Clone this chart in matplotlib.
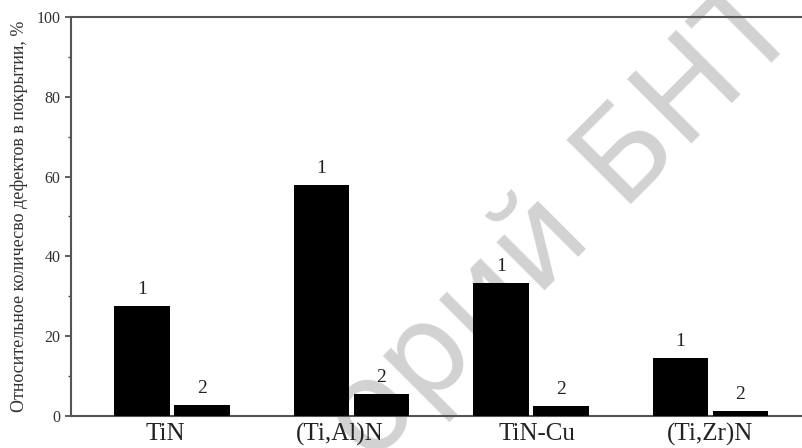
import matplotlib
matplotlib.use("Agg")
import matplotlib.pyplot as plt
import matplotlib.transforms as mtransforms
import numpy as np

categories = ["TiN", "(Ti,Al)N", "TiN-Cu", "(Ti,Zr)N"]
series1 = [27.6, 57.9, 33.3, 14.6]
series2 = [2.75, 5.6, 2.5, 1.3]
series_labels = ["1", "2"]
yticks = [0, 20, 40, 60, 80, 100]
ylabel = "Относительное количесво дефектов в покрытии, %"

plt.rcParams['font.family'] = ['Liberation Serif', 'DejaVu Serif']

fig = plt.figure(figsize=(8.02, 4.48), dpi=100)
ax = fig.add_axes([71/802, 1-416/448, (802-71)/802, (416-17)/448])
ax.set_zorder(2)

# watermark (behind the plot)
fig.text(0.735, 0.56, "орий БНТУ", rotation=45, fontsize=90, color='#d2d2d2',
         family='DejaVu Sans', ha='center', va='center', zorder=1)

x = np.arange(len(categories))
w = 0.31
off = 0.167
b1 = ax.bar(x - off, series1, w, color='black', zorder=3)
b2 = ax.bar(x + off, series2, w, color='black', zorder=3)
for bars, lab in zip([b1, b2], series_labels):
    for r in bars:
        ax.text(r.get_x() + r.get_width()/2, r.get_height() + 2.0, lab,
                ha='center', va='bottom', fontsize=14, color='#222222', zorder=4)

ax.set_xlim((71-172)/179.5, (802-172)/179.5)
ax.set_ylim(0, 100)
ax.set_yticks(yticks)
ax.set_yticks([10, 30, 50, 70, 90], minor=True)
ax.set_xticks(x)
ax.set_xticklabels([])
# category labels, slightly shifted horizontally as in the original figure (points)
label_shifts = [-4.5, -8.5, 4.5, 0]
for xi, name, dx in zip(x, categories, label_shifts):
    tr = ax.get_xaxis_transform() + mtransforms.ScaledTranslation(dx/72, -5/72, fig.dpi_scale_trans)
    ax.text(xi, 0, name, transform=tr, ha='center', va='top', fontsize=18,
            color='#222222', clip_on=False)
ax.tick_params(axis='x', length=0)
ax.tick_params(axis='y', which='major', length=4.5, width=1.2, labelsize=11.5, pad=3,
               direction='out', color='#444444', labelcolor='#333333')
ax.tick_params(axis='y', which='minor', length=2.5, width=1, direction='out', color='#444444')
ax.set_ylabel(ylabel, fontsize=13, labelpad=6, color='#333333')
for s in ['left', 'top', 'bottom']:
    ax.spines[s].set_linewidth(1.5)
    ax.spines[s].set_color('#555555')
ax.spines['right'].set_visible(False)
ax.patch.set_alpha(0)

fig.savefig("out.png", dpi=100)
